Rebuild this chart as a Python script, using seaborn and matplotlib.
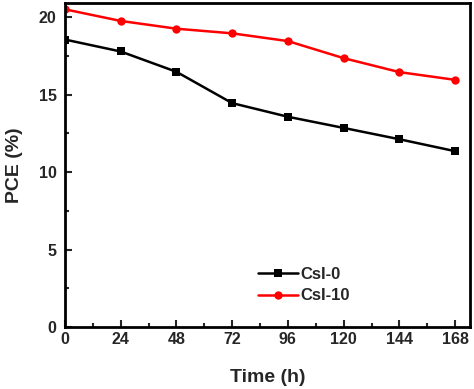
import matplotlib
matplotlib.use("Agg")
import matplotlib.pyplot as plt
import seaborn as sns
import pandas as pd
from matplotlib.ticker import MultipleLocator

time_h = [0, 24, 48, 72, 96, 120, 144, 168]
csi0 = [18.55, 17.78, 16.47, 14.45, 13.57, 12.85, 12.12, 11.35]
csi10 = [20.5, 19.75, 19.25, 18.95, 18.45, 17.35, 16.45, 15.95]
series_names = ["CsI-0", "CsI-10"]

sns.set_theme(style="ticks")
plt.rcParams['font.family'] = ['Liberation Sans', 'DejaVu Sans']
plt.rcParams['font.weight'] = 'bold'

df = pd.DataFrame({
    "Time": time_h * 2,
    "PCE": csi0 + csi10,
    "Sample": [series_names[0]] * len(time_h) + [series_names[1]] * len(time_h),
})

fig = plt.figure(figsize=(4.74, 3.89), dpi=100)
ax = fig.add_axes([0.137, 0.159, 0.855, 0.833])

sns.lineplot(data=df, x="Time", y="PCE", hue="Sample", style="Sample",
             palette=["black", "#ff0000"], markers=["s", "o"], dashes=False,
             linewidth=1.8, markersize=6, markeredgewidth=0, ax=ax)

ax.set_xlim(0, 174.5)
ax.set_ylim(0, 20.9)
ax.set_xticks(time_h)
ax.xaxis.set_minor_locator(MultipleLocator(12))
ax.yaxis.set_major_locator(MultipleLocator(5))
ax.yaxis.set_minor_locator(MultipleLocator(2.5))
ax.tick_params(which='both', direction='in', width=1.5, labelsize=11.5)
ax.tick_params(which='major', length=5)
ax.tick_params(which='minor', length=3)
ax.tick_params(axis='y', pad=6)
for lab in ax.get_xticklabels() + ax.get_yticklabels():
    lab.set_fontweight('bold')
for s in ax.spines.values():
    s.set_linewidth(2)
    s.set_color('black')

ax.set_xlabel("Time (h)", fontsize=14, fontweight='bold', labelpad=16)
ax.set_ylabel("PCE (%)", fontsize=14, fontweight='bold', labelpad=11)

leg = ax.legend(loc='center left', bbox_to_anchor=(0.44, 0.13), frameon=False,
                prop={'weight': 'bold', 'size': 12}, handlelength=2.4,
                handletextpad=0.15, labelspacing=0.4)

fig.savefig("out.png", dpi=100)
